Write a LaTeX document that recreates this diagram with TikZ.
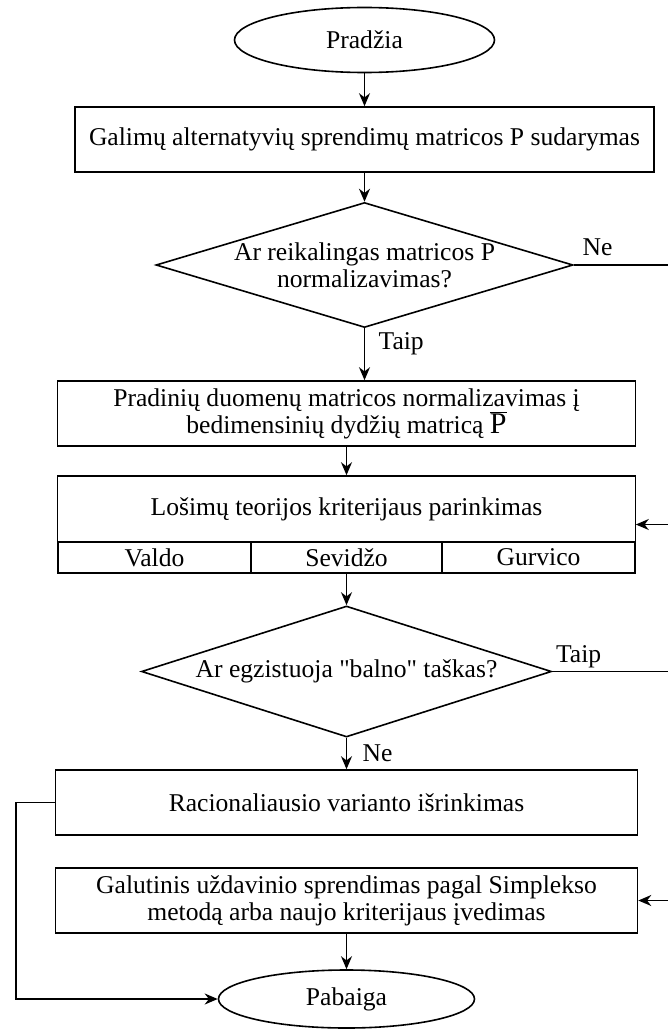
\documentclass[tikz,border=0pt]{standalone}
\usepackage{fontspec}
\newfontfamily\chartfont{Liberation Serif}
\usetikzlibrary{shapes,arrows.meta,positioning}
\tikzset{
  block/.style    = {draw, rectangle, minimum height = 65pt, minimum width = 578pt, align = center, inner sep = 2pt},
  cell/.style     = {draw, rectangle, minimum height = 31pt, minimum width = 192pt, inner sep = 0pt},
  decision/.style = {draw, diamond, inner sep = 0pt},
  terminal/.style = {draw, ellipse, inner sep = 0pt},
  port/.style     = {coordinate}
}

\begin{document}
\begin{tikzpicture}[auto, line width=1.6pt, >={Stealth[length=13pt,width=11pt]},
  font=\chartfont\fontsize{25.6}{27}\selectfont]
\useasboundingbox (0,0) rectangle (668pt,-1030pt);

% Upper part
\draw node [terminal, name=start, minimum width=260pt, minimum height=65pt] at (364.5pt,-40pt) {Pradžia};
\draw node [block, name=matrix, below of=start, node distance=99.5pt, minimum width=579pt] {Galimų alternatyvių sprendimų matricos P sudarymas};
\draw node [decision, name=dec1, below of=matrix, node distance=125.5pt, minimum width=417pt, minimum height=125pt,
  label={[align=center]center:{Ar reikalingas matricos P\\normalizavimas?}}] {};

% Normalization and criterion
\draw node [block, name=norm, below of=dec1, node distance=148.5pt, xshift=-18pt] {Pradinių duomenų matricos normalizavimas į\\bedimensinių dydžių matricą {\fontsize{30}{27}\selectfont$\overline{\mbox{P}}$}};
\draw node [block, name=game, below of=norm, node distance=95.5pt, minimum height=66pt] {Lošimų teorijos kriterijaus parinkimas};
\draw node [cell, name=sevidzo, below of=game, node distance=48.5pt] {Sevidžo};
\draw node [cell, name=valdo, left of=sevidzo, node distance=192pt, minimum width=193pt] {Valdo};
\draw node [cell, name=gurvico, right of=sevidzo, node distance=192pt, minimum width=193pt] {Gurvico};

% Lower part
\draw node [decision, name=dec2, below of=sevidzo, node distance=114pt, minimum width=410pt, minimum height=131pt,
  label={center:{Ar egzistuoja "balno" taškas?}}] {};
\draw node [block, name=rational, below of=dec2, node distance=131pt, minimum width=582pt] {Racionaliausio varianto išrinkimas};
\draw node [block, name=final, below of=rational, node distance=98pt, minimum width=582pt] {Galutinis uždavinio sprendimas pagal Simplekso\\metodą arba naujo kriterijaus įvedimas};
\draw node [terminal, name=end, below of=final, node distance=98.5pt, minimum width=256pt, minimum height=58pt] {Pabaiga};

% Free ends
\coordinate (rim) at (668pt,0);
\coordinate (loopx) at (16pt,0);
\draw node [port, name=neOut] at (rim |- dec1.east) {};
\draw node [port, name=taipOut] at (rim |- dec2.east) {};
\draw node [port, name=gameIn] at (668pt,-524.5pt) {};
\draw node [port, name=finalIn] at (rim |- final.east) {};

% Connections
\draw[->](start) -- (matrix);
\draw[->](matrix) -- (dec1);
\draw[->](dec1.south) -- node[pos=0.3, xshift=10pt] {Taip}(dec1.south |- norm.north);
\draw(dec1.east) -- node[pos=0, above right, inner sep=8pt] {Ne}(neOut);
\draw[->](norm) -- (game);
\draw[->](sevidzo) -- (dec2);
\draw(dec2.east) -- node[pos=0, above right, inner sep=3pt] {Taip}(taipOut);
\draw[->](gameIn) -- (gameIn -| gurvico.east);
\draw[->](dec2) -- node[xshift=12pt] {Ne}(rational);
\draw[->](finalIn) -- (final.east);
\draw[->](final) -- (end);
\draw[->](rational.west) -- (loopx |- rational.west) |- (end.west);

\end{tikzpicture}
\end{document}
